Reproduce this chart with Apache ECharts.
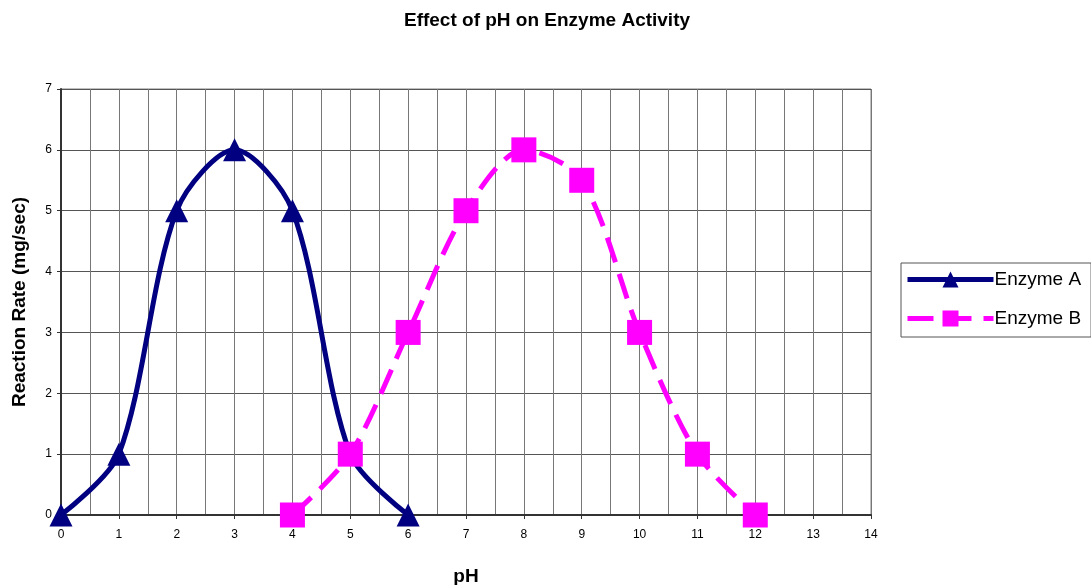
<!DOCTYPE html>
<html>
<head>
<meta charset="utf-8">
<script src="https://cdn.jsdelivr.net/npm/echarts@6/dist/echarts.min.js"></script>
<style>
  html, body { margin: 0; padding: 0; background: #fff; }
  #chart { width: 1091px; height: 585px; }
</style>
</head>
<body>
<div id="chart"></div>
<script>
// 数据
var phA = [0, 1, 2, 3, 4, 5, 6];
var rateA = [0, 1, 5, 6, 5, 1, 0];
var phB = [4, 5, 6, 7, 8, 9, 10, 11, 12];
var rateB = [0, 1, 3, 5, 6, 5.5, 3, 1, 0];

function pairs(xs, ys) {
    return xs.map(function (x, i) { return [x, ys[i]]; });
}

var myChart = echarts.init(document.getElementById('chart'));
var option = {
    animation: false,
    textStyle: { fontFamily: 'Liberation Sans, Arial, sans-serif' },
    title: {
        text: 'Effect of pH on Enzyme Activity',
        left: 542,
        textAlign: 'center',
        top: 6,
        textStyle: { fontSize: 19, fontWeight: 'bold', color: '#000' }
    },
    legend: {
        orient: 'vertical',
        left: 901,
        top: 263,
        padding: [7, 10, 9, 4],
        itemGap: 20,
        itemWidth: 86,
        itemHeight: 20,
        borderColor: '#555',
        borderWidth: 1,
        textStyle: { fontSize: 19, color: '#000', padding: [0, 0, 0, -4] },
        data: [
            { name: 'Enzyme A', lineStyle: { width: 5 } },
            { name: 'Enzyme B', lineStyle: { width: 5 } }
        ]
    },
    grid: {
        left: 61,
        right: 220,
        top: 89,
        bottom: 70,
        containLabel: false,
        outerBoundsMode: 'none',
        show: true,
        borderColor: '#808080',
        borderWidth: 1
    },
    xAxis: {
        type: 'value',
        min: 0,
        max: 14,
        interval: 1,
        name: 'pH',
        nameLocation: 'middle',
        nameGap: 52,
        nameTextStyle: { fontSize: 19, fontWeight: 'bold', color: '#000' },
        axisLine: { onZero: false, lineStyle: { color: '#333', width: 2 } },
        axisTick: { show: true, length: 4, lineStyle: { color: '#333' } },
        axisLabel: { fontSize: 12, color: '#000', margin: 14 },
        splitLine: { show: true, lineStyle: { color: '#777', width: 1 } },
        minorTick: { show: false, splitNumber: 2 },
        minorSplitLine: { show: true, lineStyle: { color: '#777', width: 1 } }
    },
    yAxis: {
        type: 'value',
        min: 0,
        max: 7,
        interval: 1,
        name: 'Reaction Rate (mg/sec)',
        nameLocation: 'middle',
        nameGap: 32,
        nameTextStyle: { fontSize: 19, fontWeight: 'bold', color: '#000' },
        axisLine: { show: true, lineStyle: { color: '#333', width: 2 } },
        axisTick: { show: true, length: 4, lineStyle: { color: '#333' } },
        axisLabel: { fontSize: 12, color: '#000', margin: 9 },
        splitLine: { show: true, lineStyle: { color: '#555', width: 1 } }
    },
    series: [
        {
            name: 'Enzyme A',
            type: 'line',
            smooth: 0.3,
            data: pairs(phA, rateA),
            symbol: 'triangle',
            symbolSize: 23,
            itemStyle: { color: '#000080' },
            lineStyle: { color: '#000080', width: 5 },
            z: 2
        },
        {
            name: 'Enzyme B',
            type: 'line',
            smooth: 0.3,
            data: pairs(phB, rateB),
            symbol: 'rect',
            symbolSize: 25,
            itemStyle: { color: '#FF00FF' },
            lineStyle: { color: '#FF00FF', width: 5, type: [26, 12] },
            z: 3
        }
    ]
};
myChart.setOption(option);
</script>
</body>
</html>
